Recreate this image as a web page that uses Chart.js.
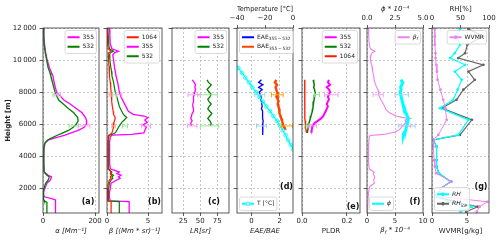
<!DOCTYPE html>
<html lang="en">
<head>
<meta charset="UTF-8">
<title>Lidar profiles</title>
<script src="https://cdn.jsdelivr.net/npm/chart.js"></script>
<style>
  body { margin: 0; background: #fff; }
  #wrap { position: relative; width: 500px; height: 241px; overflow: hidden; }
  #wrap canvas { position: absolute; top: 0; }
</style>
</head>
<body>
<div id="wrap"></div>
<script>
// ---- values (heights in m) ----
const heightTicks = [2000, 4000, 6000, 8000, 10000, 12000];
const heightTickText = ['2000', '4000', '6000', '8000', '10\u2009000', '12\u2009000'];

// (a) extinction
const hA = [12000, 11500, 11000, 10500, 10000, 9500, 9200, 9000, 8500, 8000, 7500, 7250, 7000, 6700, 6400, 6200, 6000, 5800, 5600, 5400, 5300, 5100, 5000, 4800, 4500, 4000, 3500, 3000, 2800, 2700, 2500, 2300, 2100, 2000, 1900, 1600, 1450, 1300, 1250, 1200, 1100, 440];
const alpha355 = [2, 3, 6, 10, 16, 25, 33, 38, 44, 52, 80, 104, 125, 150, 163, 168, 167, 158, 135, 100, 85, 40, 20, 8, 4, 3, 3, 5, 20, 33, 28, 15, 10, 8, 2, 2, 5, 40, 48, 48, 48, 48];
const alpha532 = [2, 3, 4, 8, 14, 20, 27, 30, 38, 46, 60, 78, 95, 118, 133, 135, 128, 116, 98, 70, 55, 30, 18, 6, 3, 3, 3, 4, 15, 24, 20, 10, 6, 5, 1, 1, 2, 3, 4, 5, 15, 15];

// (b) backscatter
const hB = [12000, 11500, 11000, 10700, 10550, 10450, 10300, 10000, 9600, 9300, 9000, 8600, 8300, 8000, 7700, 7400, 7100, 6800, 6600, 6500, 6400, 6250, 6100, 5950, 5800, 5600, 5450, 5350, 5300, 5200, 4800, 4400, 4000, 3600, 3200, 3000, 2900, 2800, 2700, 2600, 2500, 2300, 2000, 1700, 1400, 1200, 1150, 440];
const beta355 = [0.3, 0.35, 0.4, 0.6, 1.4, 0.9, 0.7, 0.8, 0.9, 1.0, 1.1, 1.3, 1.4, 1.5, 1.7, 2.0, 2.3, 2.6, 3.2, 4.5, 5.0, 4.6, 4.9, 4.4, 4.8, 4.6, 4.5, 3.0, 0.6, 0.4, 0.3, 0.3, 0.35, 0.3, 0.4, 1.5, 1.2, 1.7, 1.4, 1.6, 1.2, 0.5, 0.4, 0.3, 0.3, 0.4, 2.7, 2.7];
const beta532 = [0.1, 0.15, 0.2, 0.3, 0.8, 0.4, 0.3, 0.35, 0.45, 0.55, 0.6, 0.8, 0.9, 1.0, 1.2, 1.35, 1.5, 1.8, 2.0, 2.2, 2.4, 2.1, 1.8, 1.6, 1.4, 1.2, 1.0, 0.6, 0.3, 0.2, 0.2, 0.2, 0.2, 0.2, 0.2, 0.6, 0.5, 0.8, 0.6, 0.7, 0.5, 0.3, 0.2, 0.15, 0.15, 0.2, 1.5, 1.5];
const beta1064 = [0.05, 0.05, 0.1, 0.15, 0.5, 0.2, 0.15, 0.2, 0.25, 0.3, 0.3, 0.4, 0.45, 0.5, 0.55, 0.6, 0.65, 0.75, 0.8, 0.9, 1.0, 0.95, 0.85, 0.8, 0.75, 0.7, 0.6, 0.4, 0.2, 0.15, 0.1, 0.1, 0.1, 0.1, 0.1, 0.5, 0.4, 0.6, 0.4, 0.5, 0.3, 0.15, 0.1, 0.05, 0.05, 0.1, 0.5, 0.5];

// (c) lidar ratio
const hC = [8760, 8600, 8450, 8300, 8150, 8000, 7850, 7700, 7550, 7400, 7250, 7100, 6950, 6800, 6650, 6500, 6350, 6200, 6050, 5880];
const lr355 = [38, 41, 43, 42, 43, 42, 41, 40, 40, 40, 39, 39, 40, 40, 38, 37, 36, 38, 36, 37];
const lr532 = [60, 62, 66, 63, 60, 63, 66, 64, 61, 63, 66, 63, 61, 64, 67, 64, 61, 64, 66, 65];

// (d) angstrom exponents + temperature
const hD = [8760, 8600, 8450, 8300, 8150, 8000, 7850, 7700, 7550, 7400, 7250, 7100, 6950, 6800, 6650, 6500, 6350, 6200, 6050, 5900, 5750, 5600, 5450, 5320];
const eae = [0.7, 0.5, 0.8, 0.5, 0.75, 0.55, 0.6, 0.7, 0.65, 0.7, 0.72, 0.75, 0.7, 0.78, 0.76, 0.8, 0.78, 0.82, 0.8, 0.78, 0.8, 0.76, 0.8, 0.8];
const hBae = [8760, 8600, 8450, 8300, 8150, 8000, 7850, 7700, 7550, 7400, 7250, 7100, 6950, 6800, 6650, 6500, 6350, 6200, 6050, 5900, 5750, 5630];
const bae = [1.75, 1.65, 1.8, 1.7, 1.75, 1.8, 1.85, 1.75, 1.85, 1.9, 1.85, 1.9, 1.95, 2.0, 1.95, 2.05, 2.1, 2.15, 2.2, 2.25, 2.35, 2.4];
const hT = [9800, 9500, 9200, 8900, 8600, 8300, 8000, 7700, 7400, 7100, 6800, 6500, 6200, 5900, 5600, 5300, 5000, 4700, 4400];
const tempC = [-41.5, -39, -36.5, -34, -31.5, -29, -26.5, -24, -21.5, -19, -16.5, -14, -11.5, -9.3, -7.3, -5.3, -3.5, -1.6, 0.3];

// (e) depolarization
const hE = [8760, 8600, 8450, 8300, 8150, 8000, 7850, 7700, 7550, 7400, 7250, 7100, 6950, 6800, 6650, 6500, 6350, 6200, 6050, 5900, 5750, 5600, 5450];
const pldr355 = [0.12, 0.115, 0.125, 0.11, 0.12, 0.125, 0.12, 0.115, 0.12, 0.115, 0.11, 0.115, 0.11, 0.105, 0.1, 0.095, 0.085, 0.07, 0.055, 0.048, 0.045, 0.043, 0.042];
const pldr532 = [0.05, 0.052, 0.055, 0.052, 0.056, 0.058, 0.057, 0.055, 0.054, 0.052, 0.05, 0.049, 0.048, 0.046, 0.043, 0.04, 0.037, 0.034, 0.031, 0.029, 0.027, 0.025, 0.024];
const pldr1064 = [0.012, 0.012, 0.013, 0.012, 0.013, 0.012, 0.013, 0.012, 0.012, 0.013, 0.012, 0.012, 0.013, 0.013, 0.012, 0.013, 0.013, 0.014, 0.015, 0.016, 0.017, 0.018, 0.02];

// (f) fluorescence
const hF = [12000, 11500, 11000, 10700, 10550, 10450, 10300, 10000, 9600, 9300, 9000, 8700, 8400, 8100, 7800, 7500, 7200, 6900, 6700, 6500, 6400, 6350, 6250, 6100, 5950, 5800, 5650, 5500, 5350, 5280, 5200, 4800, 4400, 4000, 3600, 3200, 3000, 2900, 2700, 2500, 2300, 2100, 1800, 1400, 1000, 440];
const betaF = [0.24, 0.3, 0.4, 0.6, 1.4, 0.9, 0.7, 0.6, 0.9, 1.0, 1.2, 1.3, 1.6, 2.0, 2.1, 2.5, 3.0, 3.4, 4.0, 5.2, 6.5, 7.7, 6.8, 7.0, 6.5, 6.2, 5.8, 5.0, 3.0, 0.6, 0.4, 0.3, 0.25, 0.3, 0.25, 0.4, 1.3, 1.1, 1.4, 1.2, 1.3, 0.5, 0.3, 0.2, 0.15, 0.1];
const hPhi = hD;
const phi = [3.0, 3.2, 3.1, 3.0, 3.05, 2.95, 3.0, 3.05, 3.1, 3.15, 3.2, 3.3, 3.35, 3.4, 3.5, 3.6, 3.7, 3.65, 3.6, 3.55, 3.5, 3.45, 3.3, 3.25];

// (g) water vapour
const hG = [11940, 11480, 10950, 10430, 10120, 9700, 9280, 8760, 8140, 7510, 6990, 6260, 5320, 5010, 4590, 3750, 3340, 2920, 2400, 1980, 1460, 1140, 830, 520];
const rhIce = [64, 90, 62, 58, 46, 90, 64, 75, 55, 43, 17, 70, 49, 2, 8, 8, 8, 12, 33, 15, 8, 40, 80, 60];
const rh = [49, 43, 49, 40, 32, 58, 40, 52, 45, 37, 14, 64, 46, 2, 8, 8, 8, 12, 33, 15, 8, 30, 70, 50];
const wvmr = [0.4, 0.4, 0.4, 0.5, 0.5, 0.6, 0.7, 0.8, 1.2, 1.6, 1.9, 2.1, 0.9, 0.2, 0.2, 0.3, 0.4, 0.6, 2.8, 1.2, 1.5, 7.9, 6.8, 6.4];

// layer error bars: [low, high] at errH
const errH = [7830, 5880];
const errAlpha355 = [[45, 68], [135, 180]];
const errAlpha532 = [[38, 58], [100, 135]];
const errBeta355 = [[1.1, 1.8], [4.2, 5.3]];
const errBeta532 = [[0.7, 1.2], [1.9, 2.5]];
const errBeta1064 = [[0.25, 0.6], [0.6, 1.0]];
const errLr355 = [[32, 50], [31, 45]];
const errLr532 = [[46, 75], [50, 77]];
const errEae = [[0.23, 0.94], [0.35, 1.06]];
const errBae = [[1.41, 2.23], [2.12, 2.9]];
const errPldr355 = [[0.10, 0.16], [0.03, 0.065]];
const errPldr532 = [[0.055, 0.078], [0.012, 0.035]];
const errBetaF = [[1.1, 2.9], [6.2, 7.8]];
const errPhi = [[2.5, 3.7], [2.8, 4.3]];

// ---- look ----
const W = 500, H = 241, TOP = 28, BOTTOM = 213;
const H_MIN = 440, H_MAX = 12000;
const TXT = '#222', SPINE = '#333', GRID = '#b8b8b8';
const MAG = '#ff00ff', GRN = '#008000', RED = '#ff1a00', BLU = '#0000ff', ORG = '#ff4500';
const CYA = '#00ffff', VIO = '#ee82ee', GRY = '#666666';

Chart.defaults.font.family = '"DejaVu Sans", sans-serif';
Chart.defaults.font.size = 7;

function pts(xs, hs) { return xs.map((v, i) => ({ x: v, y: hs[i] })); }

function line(xs, hs, color, width, extra) {
  return Object.assign({
    data: pts(xs, hs), borderColor: color, backgroundColor: color, borderWidth: width,
    showLine: true, pointRadius: 0, tension: 0
  }, extra || {});
}

function errBars(pairs, color, axis) {
  return pairs.map((p, i) => ({
    data: [{ x: p[0], y: errH[i] }, { x: p[1], y: errH[i] }],
    borderColor: color, backgroundColor: color, borderWidth: 1, showLine: true,
    pointStyle: 'line', rotation: 90, pointRadius: 2.5, pointBorderWidth: 1,
    pointBorderColor: color, xAxisID: axis || 'x'
  }));
}

const dots = (c, r) => ({ pointRadius: r, pointBackgroundColor: c, pointBorderWidth: 0 });

const panels = [
  { id: 'a', l: 43, r: 99, first: true,
    x: { min: 0, max: 215, ticks: [0, 200], text: ['0', '200'], title: 'α [Mm⁻¹]', italic: true },
    sets: [...errBars(errAlpha355, '#f5a0f5'), ...errBars(errAlpha532, '#98e898'),
           line(alpha532, hA, GRN, 1.3), line(alpha355, hA, MAG, 1.3)],
    legends: [{ at: 'tr', items: [{ label: '355', color: MAG }, { label: '532', color: GRN }] }],
    letter: [11, 11.5] },
  { id: 'b', l: 107, r: 162,
    x: { min: 0, max: 6.7, ticks: [0, 5], text: ['0', '5'], title: 'β [(Mm * sr)⁻¹]', italic: true },
    sets: [...errBars(errBeta355, '#f5a0f5'), ...errBars(errBeta532, '#98e898'), ...errBars(errBeta1064, '#ffa090'),
           line(beta1064, hB, RED, 1.2), line(beta532, hB, GRN, 1.2), line(beta355, hB, MAG, 1.3)],
    legends: [{ at: 'tr', items: [{ label: '1064', color: RED }, { label: '355', color: MAG }, { label: '532', color: GRN }] }],
    letter: [7.5, 11.5] },
  { id: 'c', l: 172, r: 229,
    x: { min: 8.4, max: 92.2, ticks: [25, 50, 75], text: ['25', '50', '75'], title: 'LR[sr]', italic: true },
    sets: [...errBars(errLr355, '#f5a0f5'), ...errBars(errLr532, '#98e898'),
           line(lr355, hC, MAG, 1.3), line(lr532, hC, GRN, 1.3)],
    legends: [{ at: 'tr', items: [{ label: '355', color: MAG }, { label: '532', color: GRN }] }],
    letter: [15, 11.5] },
  { id: 'd', l: 237, r: 293,
    x: { min: -1.03, max: 2.93, ticks: [0, 2], text: ['0', '2'], title: 'EAE/BAE', italic: true },
    x2: { min: -40, max: 0, ticks: [-40, -20, 0], text: ['\u221240', '\u221220', '0'], title: 'Temperature [°C]' },
    sets: [...errBars(errEae, '#a8d0f0'), ...errBars(errBae, '#ffa500'),
           line(tempC, hT, CYA, 1.3, { xAxisID: 'x2', pointRadius: 1.8, pointBackgroundColor: 'rgba(255,255,255,0)', pointBorderColor: CYA, pointBorderWidth: 0.9 }),
           line(bae, hBae, ORG, 2.4), line(eae, hD, BLU, 1.3)],
    legends: [{ at: 'tl', items: [{ label: 'EAE_{355\u2009\u2212\u2009532}', color: BLU }, { label: 'BAE_{355\u2009\u2212\u2009532}', color: ORG }] },
              { at: 'bl', items: [{ label: 'T [°C]', color: CYA, marker: 1.8, hollow: true }] }],
    letter: [6.5, 26.5] },
  { id: 'e', l: 302, r: 360,
    x: { min: 0, max: 0.258, ticks: [0, 0.2], text: ['0.0', '0.2'], title: 'PLDR' },
    sets: [...errBars(errPldr355, '#f5a0f5'), ...errBars(errPldr532, '#98e898'),
           line(pldr1064, hE, RED, 1.3), line(pldr532, hE, GRN, 1.5), line(pldr355, hE, MAG, 2)],
    legends: [{ at: 'tr', items: [{ label: '355', color: MAG }, { label: '532', color: GRN }, { label: '1064', color: RED }] }],
    letter: [7, 6.5] },
  { id: 'f', l: 367, r: 423,
    x: { min: 0, max: 10, ticks: [0, 5, 10], text: ['0', '5', '10'], rich: 'β_f * 10⁻⁴', italic: true },
    x2: { min: 0, max: 5, ticks: [0, 2.5, 5], text: ['0.0', '2.5', '5.0'], title: 'ϕ * 10⁻⁴', italic: true },
    sets: [...errBars(errPhi, '#a8d0f0', 'x2'), ...errBars(errBetaF, '#f0a8f0'),
           line(phi, hPhi, CYA, 3, { xAxisID: 'x2' }), line(betaF, hF, VIO, 1.1)],
    legends: [{ at: 'tr', items: [{ label: 'β_f', color: VIO, italic: true }] },
              { at: 'bl', items: [{ label: 'ϕ', color: CYA, italic: true }] }],
    letter: [8, 11.5] },
  { id: 'g', l: 432, r: 489,
    x: { min: 0, max: 8.14, ticks: [0, 5], text: ['0', '5'], title: 'WVMR[g/kg]' },
    x2: { min: 0, max: 100, ticks: [0, 50, 100], text: ['0', '50', '100'], title: 'RH[%]' },
    sets: [line(wvmr, hG, VIO, 1, dots(VIO, 1.4)),
           line(rh, hG, CYA, 1.2, Object.assign({ xAxisID: 'x2' }, dots(CYA, 1.4))),
           line(rhIce, hG, GRY, 1.2, Object.assign({ xAxisID: 'x2' }, dots(GRY, 1.4)))],
    legends: [{ at: 'tr', items: [{ label: 'WVMR', color: VIO, marker: 1.4 }] },
              { at: 'bl', items: [{ label: 'RH', color: CYA, marker: 1.4, italic: true }, { label: 'RH_{ice}', color: GRY, marker: 1.4, italic: true }] }],
    letter: [8, 26.5] }
];

// ---- text with simple _sub support ----
function parseRich(s) {
  const out = [], re = /_\{([^}]*)\}|_(.)/g;
  let last = 0, m;
  while ((m = re.exec(s))) {
    if (m.index > last) out.push({ t: s.slice(last, m.index) });
    out.push({ t: m[1] || m[2], sub: true });
    last = re.lastIndex;
  }
  if (last < s.length) out.push({ t: s.slice(last) });
  return out;
}

function richText(ctx, s, x, y, size, italic, draw) {
  let cx = x;
  ctx.textAlign = 'left';
  ctx.textBaseline = 'middle';
  parseRich(s).forEach(g => {
    const fs = g.sub ? size * 0.72 : size;
    ctx.font = (italic ? 'italic ' : '') + fs + 'px "DejaVu Sans"';
    if (draw) ctx.fillText(g.t, cx, g.sub ? y + size * 0.3 : y);
    cx += ctx.measureText(g.t).width;
  });
  return cx - x;
}

function drawLegend(ctx, a, lg) {
  const fs = 6, rowH = 9.5, padX = 2.5, padY = 2, hl = 12, gap = 3, m = 2.5;
  let tw = 0;
  lg.items.forEach(it => { tw = Math.max(tw, richText(ctx, it.label, 0, 0, fs, it.italic, false)); });
  const w = padX * 2 + hl + gap + tw, h = padY * 2 + rowH * lg.items.length;
  const x = lg.at[1] === 'r' ? a.right - m - w : a.left + m;
  const y = lg.at[0] === 't' ? a.top + m : a.bottom - m - h;
  ctx.fillStyle = 'rgba(255,255,255,0.8)';
  ctx.strokeStyle = '#d0d0d0';
  ctx.lineWidth = 0.8;
  ctx.beginPath();
  ctx.roundRect(x, y, w, h, 2);
  ctx.fill();
  ctx.stroke();
  lg.items.forEach((it, i) => {
    const cy = y + padY + rowH * (i + 0.5);
    ctx.strokeStyle = it.color;
    ctx.lineWidth = 2;
    ctx.beginPath();
    ctx.moveTo(x + padX, cy);
    ctx.lineTo(x + padX + hl, cy);
    ctx.stroke();
    if (it.marker) {
      ctx.beginPath();
      ctx.arc(x + padX + hl / 2, cy, it.marker, 0, Math.PI * 2);
      ctx.fillStyle = it.hollow ? '#fff' : it.color;
      ctx.fill();
      ctx.lineWidth = 0.9;
      ctx.stroke();
    }
    ctx.fillStyle = TXT;
    richText(ctx, it.label, x + padX + hl + gap, cy, fs, it.italic, true);
  });
}

function decor(p) {
  return {
    id: 'decor',
    afterDraw(chart) {
      const ctx = chart.ctx, a = chart.chartArea;
      ctx.save();
      ctx.strokeStyle = SPINE;
      ctx.lineWidth = 0.8;
      ctx.strokeRect(a.left, a.top, a.right - a.left, a.bottom - a.top);
      p.legends.forEach(lg => drawLegend(ctx, a, lg));
      ctx.font = 'bold 8px "DejaVu Sans"';
      ctx.fillStyle = '#111';
      ctx.textAlign = 'center';
      ctx.textBaseline = 'middle';
      ctx.fillText('(' + p.id + ')', a.right - p.letter[0], a.bottom - p.letter[1]);
      if (p.x.rich) {
        ctx.fillStyle = TXT;
        const w = richText(ctx, p.x.rich, 0, 0, 7, p.x.italic, false);
        richText(ctx, p.x.rich, (a.left + a.right) / 2 - w / 2, H - 10.5, 7, p.x.italic, true);
      }
      ctx.restore();
    }
  };
}

function xAxis(cfg, pos) {
  const bottom = pos === 'bottom';
  return {
    type: 'linear', position: pos, min: cfg.min, max: cfg.max,
    afterBuildTicks: s => { s.ticks = cfg.ticks.map(v => ({ value: v })); },
    afterFit: s => { s.height = bottom ? H - BOTTOM : TOP; s.paddingLeft = 0; s.paddingRight = 0; },
    ticks: { color: TXT, padding: bottom ? 1 : 3, autoSkip: false, maxRotation: 0, minRotation: 0,
             callback: (v, i) => cfg.text[i] },
    grid: { drawOnChartArea: bottom, color: GRID, lineWidth: 0.8, tickLength: 3, tickColor: SPINE, tickWidth: 0.8 },
    border: { display: false, dash: [2, 2] },
    title: { display: !!cfg.title, text: cfg.title || '', color: TXT,
             font: { style: cfg.italic ? 'italic' : 'normal' },
             padding: bottom ? { top: 0, bottom: 6 } : { top: 5, bottom: 0 } }
  };
}

function yAxis(first) {
  return {
    type: 'linear', min: H_MIN, max: H_MAX,
    afterBuildTicks: s => { s.ticks = heightTicks.map(v => ({ value: v })); },
    afterFit: s => { s.width = first ? 43 : 4; s.paddingTop = 0; s.paddingBottom = 0; },
    ticks: { display: first, color: TXT, padding: 3, callback: (v, i) => heightTickText[i] },
    grid: { color: GRID, lineWidth: 0.8, tickLength: 3.5, tickColor: SPINE, tickWidth: 0.8 },
    border: { display: false, dash: [2, 2] },
    title: { display: first, text: 'Height [m]', color: TXT, font: { weight: 'bold' }, padding: { top: 4, bottom: 0 } }
  };
}

const wrap = document.getElementById('wrap');
const PAD = 12;

panels.forEach(p => {
  const left = p.first ? 0 : p.l - PAD;
  const cv = document.createElement('canvas');
  cv.width = p.r - left + PAD;
  cv.height = H;
  cv.style.left = left + 'px';
  wrap.appendChild(cv);

  const scales = { x: xAxis(p.x, 'bottom'), y: yAxis(!!p.first) };
  if (p.x2) scales.x2 = xAxis(p.x2, 'top');

  new Chart(cv, {
    type: 'scatter',
    data: { datasets: p.sets },
    options: {
      responsive: false,
      animation: false,
      events: [],
      layout: { padding: { left: p.first ? 0 : PAD - 4, right: PAD, top: p.x2 ? 0 : TOP, bottom: 0 } },
      plugins: { legend: { display: false }, tooltip: { enabled: false } },
      scales
    },
    plugins: [decor(p)]
  });
});
</script>
</body>
</html>
